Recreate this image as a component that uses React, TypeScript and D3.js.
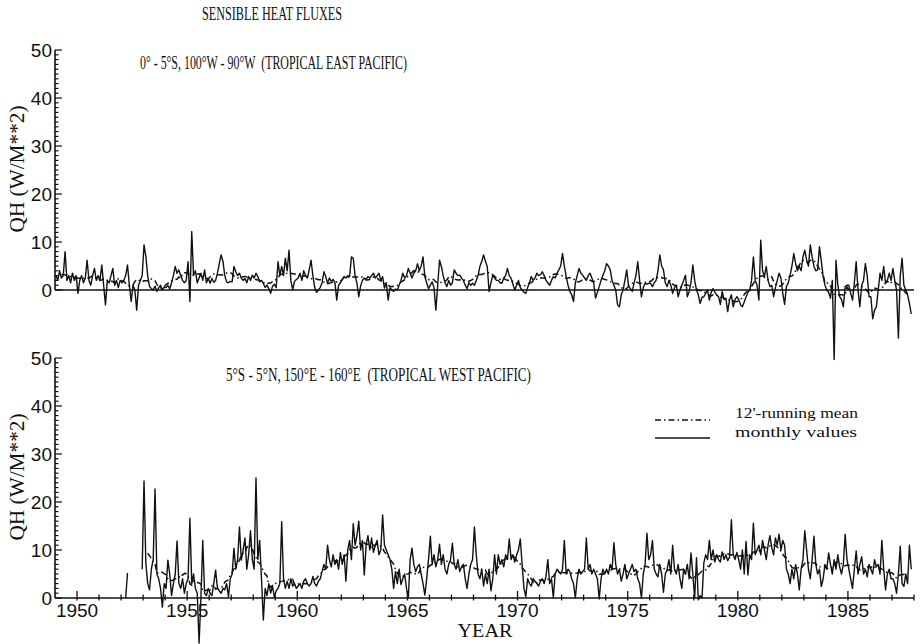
import React from "react";
import * as d3 from "d3";

// Monthly sensible heat flux QH (W/m**2), one row per year, Jan..Dec.
const EAST_START_YEAR = 1949;
const eastMonthly: number[][] = [
  [3, 2, 4, 2.5, 3, 8, 2, 3, 1.5, 3.5, 2, 3],
  [-0.7, 2, 3, 1.5, 2.5, 6.2, 2, 1, 3, 4.5, 2, 3],
  [2, 5.2, 1, -3.1, 2, 1.5, 3, 4.5, 1, 2, 0.5, 2],
  [1.5, 2, 3, 5.2, 1, -2.4, 1, 0, -4.2, 1, 2, 3],
  [9.4, 7, 3, 0.7, 0.3, 0, 0.8, -0.3, 0.5, 1, 0, 0.6],
  [0.5, 1, 0.2, 1.5, 3, 4.9, 3.5, 4.2, 3, 2, 1.5, 2],
  [5.9, -2.4, 12.2, 3, 4, 1.5, 2.5, 3.5, 2, 4.2, 1.5, 2.4],
  [1.4, 2.4, 1.6, 2, 3.5, 5.5, 7.3, 6, 3, 1.7, 1.5, 1.8],
  [1.7, 4.9, 3.8, 3, 3.5, 2.5, 2, 2.4, 1.5, 2.8, 2, 3.1],
  [2.5, 3.5, 2.8, 1.7, 2, 1.4, 0.5, 1, 0.3, -0.7, 0.8, 1.2],
  [0.5, 5.9, 3, 4.9, 3, 6.6, 4, 8.3, 2, 0, 1.8, 2.2],
  [2.5, 3.5, 2, 4, 3, 2.5, 4.2, 6.2, 3, 0.5, -0.5, 0],
  [0.5, 1.5, 3.8, 2.8, 1.4, 2.5, 1.8, 2.2, 1.6, -2.1, 1, 1.5],
  [2.2, 2.8, 2.5, 3, 2.8, 6.9, 6.6, 3, 1.4, -1.4, 0.8, 2],
  [2.5, 2.2, 2.8, 2.5, 3, 3.5, 2.5, 3, 3.5, 2, 2.8, 0.4],
  [1.5, -2.1, 0.5, 0, -0.3, 0.2, 0, 1, 2, 3.5, 2.5, 3],
  [4.5, 3.5, 2.5, 3.5, 4, 5.5, 4, 5, 6.9, 2.8, 1.5, 0.3],
  [1, 1.7, 0.5, -4.2, 1, 6.2, 4.9, 3, 1.5, 0.7, 2, 1],
  [1.5, 4.2, 3.5, 3, 3.1, 2.5, 2, 1, 0.3, 1.5, 1, 1.4],
  [1, 2, 3, 4.9, 6, 7.3, 6, 4.9, -0.3, 1.5, 3.1, 2.5],
  [2, 2, 1.5, 1.4, 2.5, 3, 4.5, 3, 2.4, 1.2, 0, 1],
  [2, 0.5, 0, -0.5, -0.7, 0.5, 1.5, 2.8, 2, 2.5, 3.5, 3],
  [3.2, 3.8, 3, 2, 1.5, 1, 2, 2.8, 2.5, 3.5, 4.2, 5],
  [7.6, 5, 2.8, 1, -0.3, -1, -2.4, 1.5, 3, 4.5, 3.5, 3.1],
  [2.5, 2, 3, 3.5, 2.5, 1.4, -1.7, -0.5, 0.7, 2, 3, 4],
  [5.5, 5, 4.2, 2, 1, 0, -3.1, -3.5, -1, 0, 2, 4.2],
  [0.7, 0.3, -0.3, 1.5, 3, 5.9, 2, -1.4, 0.5, 1.4, 1.2, 1.4],
  [1.4, 0.7, 1.5, 2, 4, 7.3, 5, 4.2, 1.5, 0.7, 2, 1],
  [-0.7, 0.5, 1, -1.4, 0, 1, 2, 3.1, -1.4, -0.3, 1.5, 5.2],
  [2, 0, -1, -2.8, -1.5, -1.4, -0.7, 0, -2.1, -0.5, 0.3, -0.5],
  [-1, -1.4, -3, -0.3, -2, -1.7, -4.5, -2.1, -1, -3.5, -2, -1.4],
  [-2, -3.1, -3.5, -2.5, -1.4, -0.5, 0, 2, 6.9, 2, 1, -2.1],
  [10.4, 4, 2.8, 4.9, 2, 0.7, 1, -1.4, 0.5, 2, 3.5, 2.5],
  [-0.7, -3, 0.7, 1.5, 3.1, 5, 7.6, 5.5, 4, 4.9, 4, 6.9],
  [8.3, 6.2, 5, 9.4, 6.9, 4.9, 4, 4.2, 9, 6, 2.8, 1],
  [0, -0.5, -1.7, 2, -14.5, 6.2, 1, -1.4, -2, -3.5, 0.7, 1],
  [1, -0.7, -2.1, 1.5, 5.9, 0, -3.5, 1, 2, 5.5, 3, -1.4],
  [-1.4, -6, -4.2, -3.5, 0, 3.5, 2, 4.9, 1.4, 2, 3.5, 2],
  [4.5, 2, 0, -10, 3, 6.6, 1, 0, -1, -2.8, -5],
];

const WEST_START_YEAR = 1952;
const westMonthly: (number | null)[][] = [
  [null, null, 0, 5.2, null, null, null, null, null, null, null, 6],
  [24.4, 7.3, 3, 1.7, 6, 8, 22.7, 5, 4, 2, -1.9, 3],
  [2, 7.9, 5, 0.5, 3, 5, 11.9, 3, 2, 4, 1, 3],
  [4, 16.6, 3, 5, 2, 1, -9.4, 0, 12, 1, 0.5, 2],
  [1, 0.5, 3, 5.8, 2, 1.5, 1, 2, 1.7, 3, 0.3, 4],
  [5, 10.4, 6, 8, 14.8, 7.9, 10, 12.5, 6, 9, 14, 8],
  [6, 25, 8, 12, 4, -4.6, 2, 0.5, 3, 1, 2.5, 0.2],
  [1.5, 2, 3, 15.9, 4, 2, 3.5, 2, 4, 2.5, 3, 2],
  [2.5, 3, 2, 3.5, 4, 3, 2.5, 3, 4.5, 3, 2.5, 3.5],
  [4, 5.5, 7, 6, 11, 8, 6.5, 9, 7, 8, 6, 9.5],
  [7, 9, 3.5, 10, 12, 8, 15.5, 11, 13, 16, 10, 12],
  [4.8, 11, 13, 10, 12.5, 9.5, 11, 12, 9, 10, 17.3, 11],
  [10, 9, 8, 6, 2, 5.5, 3, 6, 2.8, 4, 5, 2],
  [0, 8, 10.4, 7, 5.5, 6.5, 7, 5, 3, 0.6, 4, 8],
  [12.9, 7, 9, 6.5, 8, 11.2, 7, 9, 6, 5, 7, 8],
  [11.4, 7, 6, 8, 5.5, 6.5, 7, 4, 2, 5, 7, 8],
  [14.8, 9, 5, 4, 6, 2.5, 5, 3, 6, 1.5, 4, 9],
  [5, 9, 7, 8, 6.5, 9, 8, 12.3, 8, 9, 7.5, 9],
  [10, 12.3, 7, 2, 0.3, 4, 3, 2.5, 4, 3.5, 3, 2.5],
  [3.5, 4, 3, 4.5, 8, 3, 4, 0, 5, 6, 5.5, 5],
  [6, 12, 5, 6, 5.5, 4, 3, 0, 4, 6, 5, 5.5],
  [6, 12.5, 6, 7, 5, 6, 5, 4, -0.2, 4, 6, 5],
  [6, 5, 7, 6, 11.5, 7, 5, 6, 3.5, 5, 7, 4],
  [5, 6, 7, 5.5, 6, 4, 3, 0, 5, 7, 13.5, 8],
  [9, 12, 6, 5, 4.4, 7, 5, 1.2, 5, 6, 8, 5],
  [11, 6, 5, 7, 4, 2, 6, 5, 7, 4, 9.4, 5],
  [0, 8.4, -0.4, 0.5, 0, 7.3, 9, 8, 12, 8, 10, 7.5],
  [9, 8, 7.5, 9.6, 8, 9, 7.8, 8.5, 16.3, 9, 8, 9.5],
  [8, 6, 10, 5, 11.8, 4.8, 9, 8, 15.6, 9, 10, 11],
  [9, 12, 10, 8, 11, 13, 10.5, 9, 12.5, 11, 13.3, 10],
  [12, 11, 6, 5, 3, 6, 4, 7, 5, 1.7, 6, 8],
  [14, 10, 6, 4, 8, 12.9, 7, 5, 6, 2.4, 4, 7],
  [6, 9.4, 7, 5, 8, 6, 9, 6.5, 5, 7, 13.3, 8],
  [6, 4, 2, 6, 9.8, 5, 7, 8.6, 5, 6, 4.4, 7],
  [6, 5, 8, 6.5, 7, 5, 12, 6, 1.7, 5, 6, 4],
  [4, 3, 1, 5, 10.8, 3, 2.4, 5, 3, 11, 6],
];

const yearTickLabels = [1950, 1955, 1960, 1965, 1970, 1975, 1980, 1985];
const qhTickLabels = [0, 10, 20, 30, 40, 50];
const YEAR_MIN = 1949;
const YEAR_MAX = 1988;

type Pt = { t: number; v: number | null };

function flatten(rows: (number | null)[][], startYear: number): Pt[] {
  const out: Pt[] = [];
  rows.forEach((row, yi) =>
    row.forEach((v, m) => out.push({ t: startYear + yi + (m + 0.5) / 12, v }))
  );
  return out;
}

// centred 12-month running mean, skipping missing months
function runningMean(pts: Pt[], minValid = 9): Pt[] {
  return pts.map((p, i) => {
    const win = pts.slice(Math.max(0, i - 6), Math.min(pts.length, i + 6));
    const vals = win.map((d) => d.v).filter((v): v is number => v != null);
    return { t: p.t, v: vals.length >= minValid ? d3.mean(vals)! : null };
  });
}

const SERIF = "'Liberation Serif', 'Times New Roman', serif";
const SANS = "'Liberation Sans', Arial, sans-serif";
const INK = "#111";

const x = d3.scaleLinear().domain([YEAR_MIN, YEAR_MAX]).range([55, 914]);

function Panel({
  pts,
  zeroY,
  title,
  titleX,
  titleY,
  titleLen,
  showXAxis,
}: {
  pts: Pt[];
  zeroY: number;
  title: string;
  titleX: number;
  titleY: number;
  titleLen: number;
  showXAxis: boolean;
}) {
  const y = d3.scaleLinear().domain([0, 50]).range([zeroY, zeroY - 240]);
  const line = d3
    .line<Pt>()
    .defined((d) => d.v != null)
    .x((d) => x(d.t))
    .y((d) => y(d.v as number));
  const mean = runningMean(pts);
  const axisX = x(YEAR_MIN);
  const minorY = d3.range(0, 51, 1);
  const yearTicks = d3.range(YEAR_MIN + 1, YEAR_MAX + 1);
  return (
    <g>
      {/* y axis */}
      <line x1={axisX} x2={axisX} y1={y(0)} y2={y(50)} stroke={INK} strokeWidth={1.6} />
      {minorY.map((v) => (
        <line
          key={"yt" + v}
          x1={axisX}
          x2={axisX + (v % 10 === 0 ? 7 : 3.5)}
          y1={y(v)}
          y2={y(v)}
          stroke={INK}
          strokeWidth={1.2}
        />
      ))}
      {qhTickLabels.map((v) => (
        <text
          key={"yl" + v}
          x={axisX - 3}
          y={y(v) + 7}
          textAnchor="end"
          fontFamily={SANS}
          fontSize={19}
          fill={INK}
        >
          {v}
        </text>
      ))}
      <text
        transform={`translate(24,${zeroY - 121}) rotate(-90)`}
        textAnchor="middle"
        fontFamily={SERIF}
        fontSize={21}
        textLength={127}
        lengthAdjust="spacingAndGlyphs"
        fill={INK}
      >
        QH (W/M**2)
      </text>
      {/* zero line / x axis */}
      <line x1={axisX} x2={x(YEAR_MAX)} y1={y(0)} y2={y(0)} stroke={INK} strokeWidth={1.6} />
      {showXAxis &&
        yearTicks.map((yr) => {
          const major = yearTickLabels.includes(yr);
          return (
            <line
              key={"xt" + yr}
              x1={x(yr)}
              x2={x(yr)}
              y1={y(0) - (major ? 7 : 3.5)}
              y2={y(0) + 2.5}
              stroke={INK}
              strokeWidth={1.3}
            />
          );
        })}
      {showXAxis &&
        yearTickLabels.map((yr) => (
          <text
            key={"xl" + yr}
            x={x(yr)}
            y={y(0) + 19}
            textAnchor="middle"
            fontFamily={SANS}
            fontSize={19}
            fill={INK}
          >
            {yr}
          </text>
        ))}
      <text
        x={titleX}
        y={titleY}
        fontFamily={SERIF}
        fontSize={19}
        textLength={titleLen}
        lengthAdjust="spacingAndGlyphs"
        fill={INK}
        style={{ whiteSpace: "pre" }}
      >
        {title}
      </text>
      {/* 12-month running mean */}
      <path
        d={line(mean) || ""}
        fill="none"
        stroke={INK}
        strokeWidth={1.5}
        strokeDasharray="6,3,1.5,3"
      />
      {/* monthly values */}
      <path d={line(pts) || ""} fill="none" stroke={INK} strokeWidth={1.4} strokeLinejoin="round" />
    </g>
  );
}

export default function App() {
  const east = flatten(eastMonthly, EAST_START_YEAR);
  const west = flatten(westMonthly, WEST_START_YEAR);
  return (
    <svg
      width={921}
      height={644}
      viewBox="0 0 921 644"
      style={{ position: "absolute", left: 0, top: 0, background: "#fff", display: "block" }}
    >
      <rect width={921} height={644} fill="#fff" />
      <text
        x={272}
        y={20}
        textAnchor="middle"
        fontFamily={SERIF}
        fontSize={19}
        textLength={140}
        lengthAdjust="spacingAndGlyphs"
        fill={INK}
      >
        SENSIBLE HEAT FLUXES
      </text>
      <Panel
        pts={east}
        zeroY={290}
        title="0° - 5°S, 100°W - 90°W  (TROPICAL EAST PACIFIC)"
        titleX={140}
        titleY={69}
        titleLen={267}
        showXAxis={false}
      />
      <Panel
        pts={west}
        zeroY={598}
        title="5°S - 5°N, 150°E - 160°E  (TROPICAL WEST PACIFIC)"
        titleX={226}
        titleY={381}
        titleLen={305}
        showXAxis={true}
      />
      {/* legend */}
      <line x1={655} x2={710} y1={420} y2={420} stroke={INK} strokeWidth={1.3} strokeDasharray="6,3,1.5,3" />
      <line x1={655} x2={710} y1={438} y2={438} stroke={INK} strokeWidth={1.3} />
      <text x={735} y={418} fontFamily={SERIF} fontSize={15} textLength={123} lengthAdjust="spacingAndGlyphs" fill={INK}>
        12'-running mean
      </text>
      <text x={735} y={437} fontFamily={SERIF} fontSize={15} textLength={122} lengthAdjust="spacingAndGlyphs" fill={INK}>
        monthly values
      </text>
      <text
        x={485}
        y={637}
        textAnchor="middle"
        fontFamily={SERIF}
        fontSize={19}
        textLength={55}
        lengthAdjust="spacingAndGlyphs"
        fill={INK}
      >
        YEAR
      </text>
    </svg>
  );
}
